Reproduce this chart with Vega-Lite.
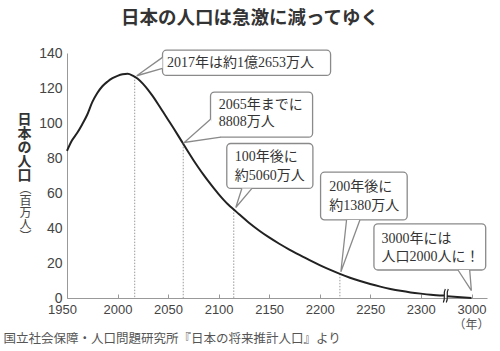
{
  "$schema": "https://vega.github.io/schema/vega-lite/v6.json",
  "width": 420,
  "height": 245,
  "autosize": {"type": "none"},
  "padding": {"left": 67, "top": 53, "right": 13, "bottom": 53},
  "background": "white",
  "config": {"view": {"stroke": null}},
  "title": {
    "text": "日本の人口は急激に減ってゆく",
    "font": "Noto Sans CJK JP",
    "fontSize": 18.5,
    "fontWeight": "bold",
    "color": "#333333",
    "anchor": "middle",
    "frame": "group",
    "dx": -27,
    "dy": 25,
    "offset": 25,
    "baseline": "bottom"
  },
  "datasets": {
    "curve": [
      {"year": 1950, "pop": 84.1, "seg": "a"},
      {"year": 1955, "pop": 90.1, "seg": "a"},
      {"year": 1960, "pop": 94.3, "seg": "a"},
      {"year": 1965, "pop": 99.2, "seg": "a"},
      {"year": 1970, "pop": 104.7, "seg": "a"},
      {"year": 1975, "pop": 111.9, "seg": "a"},
      {"year": 1980, "pop": 117.1, "seg": "a"},
      {"year": 1985, "pop": 121.0, "seg": "a"},
      {"year": 1990, "pop": 123.6, "seg": "a"},
      {"year": 1995, "pop": 125.6, "seg": "a"},
      {"year": 2000, "pop": 126.9, "seg": "a"},
      {"year": 2005, "pop": 127.8, "seg": "a"},
      {"year": 2010, "pop": 128.1, "seg": "a"},
      {"year": 2015, "pop": 127.1, "seg": "a"},
      {"year": 2020, "pop": 125.3, "seg": "a"},
      {"year": 2025, "pop": 122.5, "seg": "a"},
      {"year": 2030, "pop": 119.1, "seg": "a"},
      {"year": 2035, "pop": 115.2, "seg": "a"},
      {"year": 2040, "pop": 110.9, "seg": "a"},
      {"year": 2045, "pop": 106.4, "seg": "a"},
      {"year": 2050, "pop": 101.9, "seg": "a"},
      {"year": 2055, "pop": 97.4, "seg": "a"},
      {"year": 2060, "pop": 92.8, "seg": "a"},
      {"year": 2065, "pop": 88.1, "seg": "a"},
      {"year": 2070, "pop": 83.4, "seg": "a"},
      {"year": 2075, "pop": 78.9, "seg": "a"},
      {"year": 2080, "pop": 74.6, "seg": "a"},
      {"year": 2085, "pop": 70.5, "seg": "a"},
      {"year": 2090, "pop": 66.6, "seg": "a"},
      {"year": 2095, "pop": 62.9, "seg": "a"},
      {"year": 2100, "pop": 59.4, "seg": "a"},
      {"year": 2105, "pop": 56.1, "seg": "a"},
      {"year": 2110, "pop": 53.1, "seg": "a"},
      {"year": 2115, "pop": 50.6, "seg": "a"},
      {"year": 2120, "pop": 48.0, "seg": "a"},
      {"year": 2130, "pop": 43.0, "seg": "a"},
      {"year": 2140, "pop": 38.6, "seg": "a"},
      {"year": 2150, "pop": 34.6, "seg": "a"},
      {"year": 2160, "pop": 31.0, "seg": "a"},
      {"year": 2170, "pop": 27.7, "seg": "a"},
      {"year": 2180, "pop": 24.6, "seg": "a"},
      {"year": 2190, "pop": 21.6, "seg": "a"},
      {"year": 2200, "pop": 18.8, "seg": "a"},
      {"year": 2210, "pop": 16.2, "seg": "a"},
      {"year": 2220, "pop": 13.8, "seg": "a"},
      {"year": 2230, "pop": 11.6, "seg": "a"},
      {"year": 2240, "pop": 9.7, "seg": "a"},
      {"year": 2250, "pop": 8.0, "seg": "a"},
      {"year": 2260, "pop": 6.5, "seg": "a"},
      {"year": 2270, "pop": 5.2, "seg": "a"},
      {"year": 2280, "pop": 4.1, "seg": "a"},
      {"year": 2290, "pop": 3.2, "seg": "a"},
      {"year": 2300, "pop": 2.5, "seg": "a"},
      {"year": 2310, "pop": 1.9, "seg": "a"},
      {"year": 2323, "pop": 1.4, "seg": "a"},
      {"year": 2350, "pop": 1.0, "seg": "b"},
      {"year": 3000, "pop": 0.002, "seg": "b"}
    ],
    "marks": [
      {"year": 2017, "pop": 126.5},
      {"year": 2065, "pop": 88.1},
      {"year": 2115, "pop": 50.6},
      {"year": 2220, "pop": 13.8}
    ],
    "boxes": [
      {"x1": 2044.5, "x2": 2210.8, "y1": 127.2, "y2": 141.6},
      {"x1": 2092.0, "x2": 2193.0, "y1": 91.9, "y2": 117.7},
      {"x1": 2108.1, "x2": 2193.3, "y1": 62.6, "y2": 88.3},
      {"x1": 2200.9, "x2": 2286.6, "y1": 44.6, "y2": 71.9},
      {"x1": 2253.7, "x2": 3375.5, "y1": 16.0, "y2": 42.4}
    ],
    "tails": [
      {"t": 1, "k": 0, "year": 2044.5, "pop": 137.5},
      {"t": 1, "k": 1, "year": 2019, "pop": 127.0},
      {"t": 1, "k": 2, "year": 2044.5, "pop": 131.2},
      {"t": 2, "k": 0, "year": 2092.0, "pop": 102.1},
      {"t": 2, "k": 1, "year": 2066, "pop": 88.9},
      {"t": 2, "k": 2, "year": 2102.2, "pop": 91.9},
      {"t": 3, "k": 0, "year": 2123, "pop": 62.6},
      {"t": 3, "k": 1, "year": 2117, "pop": 51.7},
      {"t": 3, "k": 2, "year": 2133, "pop": 62.6},
      {"t": 4, "k": 0, "year": 2226.6, "pop": 44.6},
      {"t": 4, "k": 1, "year": 2221, "pop": 15.0},
      {"t": 4, "k": 2, "year": 2239.8, "pop": 44.6},
      {"t": 5, "k": 0, "year": 2642.5, "pop": 16.0},
      {"t": 5, "k": 1, "year": 2997, "pop": 4.2},
      {"t": 5, "k": 2, "year": 2952, "pop": 16.0}
    ],
    "notes": [
      {"label": "2017年は約1億2653万人", "year": 2048.9, "pop": 134.4},
      {"label": "2065年までに", "year": 2100.2, "pop": 110.1},
      {"label": "8808万人", "year": 2100.2, "pop": 100.3},
      {"label": "100年後に", "year": 2116.0, "pop": 80.6},
      {"label": "約5060万人", "year": 2116.0, "pop": 70.0},
      {"label": "200年後に", "year": 2209.4, "pop": 63.3},
      {"label": "約1380万人", "year": 2209.4, "pop": 52.8},
      {"label": "3000年には", "year": 2261.3, "pop": 33.7},
      {"label": "人口2000人に！", "year": 2261.3, "pop": 23.2}
    ],
    "brk": [
      {"year": 2324.8, "pop": 1.3}
    ]
  },
  "resolve": {"axis": {"x": "independent", "y": "independent"}},
  "layer": [
    {
      "data": {"name": "marks"},
      "mark": {"type": "rule", "color": "#9a9a9a", "strokeDash": [1.5, 1.5], "strokeWidth": 1},
      "encoding": {
        "x": {"field": "year", "type": "quantitative", "scale": {"domain": [1950, 2325, 3410], "range": [0, 379, 420], "nice": false, "zero": false}, "axis": null},
        "y": {"field": "pop", "type": "quantitative", "scale": {"domain": [0, 140], "nice": false, "zero": true}, "axis": null},
        "y2": {"datum": 0}
      }
    },
    {
      "data": {"name": "curve"},
      "mark": {"type": "line", "color": "#222222", "strokeWidth": 2, "interpolate": "monotone"},
      "encoding": {
        "x": {
          "field": "year", "type": "quantitative",
          "scale": {"domain": [1950, 2325, 3410], "range": [0, 379, 420], "nice": false, "zero": false},
          "axis": {
            "values": [1950, 2000, 2050, 2100, 2150, 2200, 2250, 2300, 3000],
            "format": "d",
            "labelFont": "Liberation Sans",
            "labelFontSize": 13,
            "labelColor": "#444444",
            "labelPadding": 9,
            "labelOffset": {"condition": {"test": "datum.value == 1950", "value": -5}, "value": 0},
            "labelOverlap": false,
            "labelFlush": false,
            "tickSize": -4,
            "tickColor": "#999999",
            "domainColor": "#999999",
            "grid": false,
            "title": "（年）",
            "titleFont": "Noto Sans CJK JP",
            "titleFontSize": 12,
            "titleFontWeight": "normal",
            "titleColor": "#555555",
            "titleX": 404,
            "titleY": 26,
            "titleAlign": "center",
            "titleBaseline": "middle"
          }
        },
        "y": {
          "field": "pop", "type": "quantitative",
          "scale": {"domain": [0, 140], "nice": false, "zero": true},
          "axis": {
            "values": [0, 20, 40, 60, 80, 100, 120, 140],
            "labelFont": "Liberation Sans",
            "labelFontSize": 14,
            "labelColor": "#444444",
            "labelPadding": 5,
            "ticks": false,
            "domainColor": "#999999",
            "gridColor": "#c4c4c4",
            "title": ["日", "本", "の", "人", "口"],
            "titleAngle": 0,
            "titleX": -43,
            "titleY": 59,
            "titleAlign": "center",
            "titleBaseline": "top",
            "titleFont": "Noto Sans CJK JP",
            "titleFontSize": 14,
            "titleFontWeight": "bold",
            "titleColor": "#333333",
            "titleLineHeight": 14
          }
        },
        "detail": {"field": "seg", "type": "nominal"}
      }
    },
    {
      "data": {"name": "boxes"},
      "mark": {"type": "rect", "fill": "white", "stroke": "#8a8a8a", "strokeWidth": 1.3, "cornerRadius": 4},
      "encoding": {
        "x": {"field": "x1", "type": "quantitative", "axis": null},
        "x2": {"field": "x2"},
        "y": {"field": "y1", "type": "quantitative", "axis": null},
        "y2": {"field": "y2"}
      }
    },
    {
      "data": {"name": "tails"},
      "mark": {"type": "line", "fill": "white", "stroke": "#8a8a8a", "strokeWidth": 1.3, "interpolate": "linear"},
      "encoding": {
        "x": {"field": "year", "type": "quantitative", "axis": null},
        "y": {"field": "pop", "type": "quantitative", "axis": null},
        "detail": {"field": "t", "type": "nominal"},
        "order": {"field": "k", "type": "quantitative"}
      }
    },
    {
      "data": {"name": "notes"},
      "mark": {"type": "text", "align": "left", "baseline": "middle", "font": "'Liberation Serif', 'Noto Sans CJK JP'", "fontSize": 14, "color": "#333333"},
      "encoding": {
        "x": {"field": "year", "type": "quantitative", "axis": null},
        "y": {"field": "pop", "type": "quantitative", "axis": null},
        "text": {"field": "label", "type": "nominal"}
      }
    },
    {
      "data": {"name": "brk"},
      "mark": {"type": "point", "shape": "M -0.37 1 C 0.03 0.3 -0.47 -0.3 -0.07 -1 M 0.07 1 C 0.47 0.3 -0.03 -0.3 0.37 -1", "size": 180, "stroke": "#222222", "strokeWidth": 1.2, "filled": false, "opacity": 1},
      "encoding": {
        "x": {
          "field": "year", "type": "quantitative",
          "axis": {
            "orient": "bottom", "labels": false, "ticks": false, "domain": false, "grid": false,
            "title": "国立社会保障・人口問題研究所『日本の将来推計人口』より",
            "titleX": -64, "titleY": 40, "titleAlign": "left", "titleBaseline": "middle",
            "titleFont": "Noto Sans CJK JP", "titleFontSize": 12.5, "titleFontWeight": "normal", "titleColor": "#555555"
          }
        },
        "y": {
          "field": "pop", "type": "quantitative",
          "axis": {
            "orient": "left", "labels": false, "ticks": false, "domain": false, "grid": false,
            "title": ["︵", "百", "万", "人", "︶"],
            "titleAngle": 0, "titleX": -42, "titleY": 130, "titleAlign": "center", "titleBaseline": "top",
            "titleFont": "Noto Sans CJK JP", "titleFontSize": 12, "titleFontWeight": "normal", "titleColor": "#444444", "titleLineHeight": 12
          }
        }
      }
    }
  ]
}
